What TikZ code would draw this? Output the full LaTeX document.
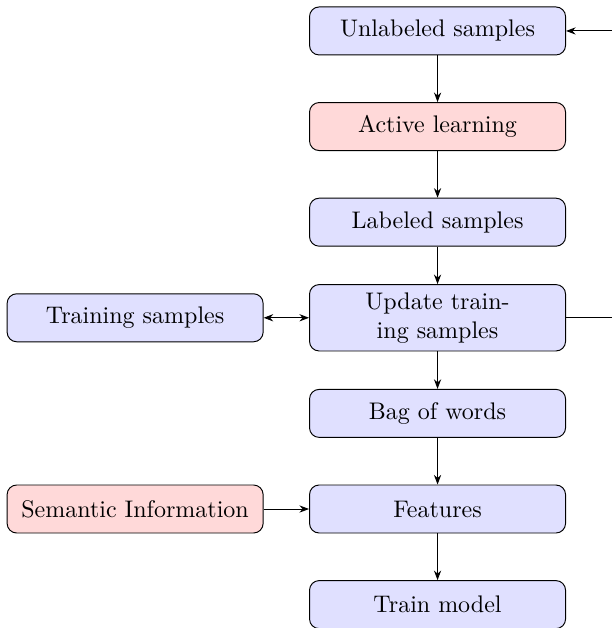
\documentclass[tikz,border=0pt]{standalone}
\usetikzlibrary{arrows.meta}
\begin{document}
\begin{tikzpicture}[x=1pt,y=1pt,
  block/.style={rectangle, draw, fill=blue!12, text width=10em, text centered, rounded corners=4pt, minimum height=2em},
  redblock/.style={block, fill=red!15},
  conn/.style={-{Stealth[length=4pt,width=3pt]}},
  bconn/.style={{Stealth[length=4pt,width=3pt]}-{Stealth[length=4pt,width=3pt]}}]
\useasboundingbox (-182.3,12.9) rectangle (72.3,-248.75);
\node[block] (unl) at (0,0) {Unlabeled samples};
\node[redblock] (act) at (0,-39.83) {Active learning};
\node[block] (lab) at (0,-79.67) {Labeled samples};
\node[block] (upd) at (0,-119.5) {Update training samples};
\node[block] (bag) at (0,-159.33) {Bag of words};
\node[block] (fea) at (0,-199.17) {Features};
\node[block] (trn) at (0,-239) {Train model};
\node[block] (ts) at (-126,-119.5) {Training samples};
\node[redblock] (sem) at (-126,-199.17) {Semantic Information};
\coordinate (r1) at (85,-119.5);
\coordinate (r2) at (85,0);
\draw[conn] (unl) -- (act);
\draw[conn] (act) -- (lab);
\draw[conn] (lab) -- (upd);
\draw[conn] (upd) -- (bag);
\draw[conn] (bag) -- (fea);
\draw[conn] (fea) -- (trn);
\draw[bconn] (ts) -- (upd);
\draw[conn] (sem) -- (fea);
\draw[conn] (upd.east) -- (r1) -- (r2) -- (unl.east);
\end{tikzpicture}
\end{document}
